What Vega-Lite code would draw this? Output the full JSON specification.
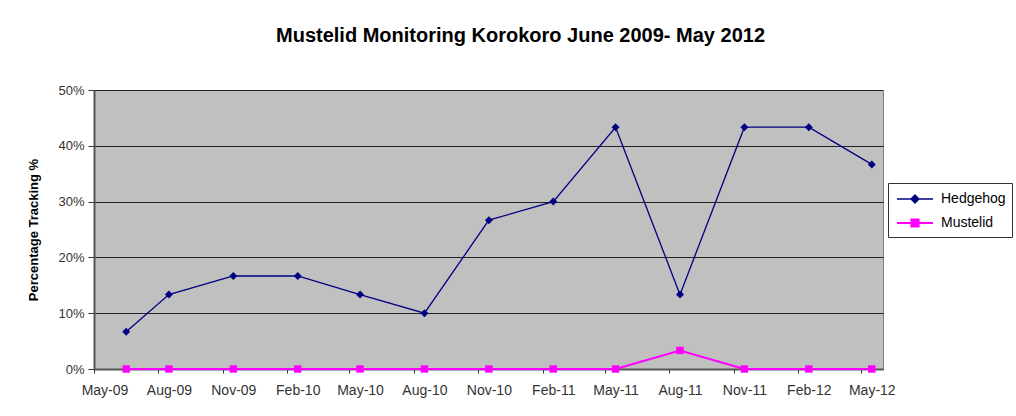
{
  "$schema": "https://vega.github.io/schema/vega-lite/v6.json",
  "autosize": {"type": "none"},
  "width": 789,
  "height": 279,
  "padding": {"left": 94, "top": 90, "right": 133, "bottom": 47},
  "background": "white",
  "title": {
    "text": "Mustelid Monitoring Korokoro June 2009- May 2012",
    "font": "Liberation Sans",
    "fontSize": 20,
    "fontWeight": "bold",
    "color": "#000000",
    "anchor": "middle",
    "dx": 32,
    "offset": 38
  },
  "config": {
    "font": "Liberation Sans",
    "view": {"fill": "#C0C0C0", "stroke": "#808080", "strokeWidth": 1}
  },
  "data": {
    "values": [
      {"date": "2009-06-01", "series": "Hedgehog", "value": 0.0667},
      {"date": "2009-08-01", "series": "Hedgehog", "value": 0.1333},
      {"date": "2009-11-01", "series": "Hedgehog", "value": 0.1667},
      {"date": "2010-02-01", "series": "Hedgehog", "value": 0.1667},
      {"date": "2010-05-01", "series": "Hedgehog", "value": 0.1333},
      {"date": "2010-08-01", "series": "Hedgehog", "value": 0.1},
      {"date": "2010-11-01", "series": "Hedgehog", "value": 0.2667},
      {"date": "2011-02-01", "series": "Hedgehog", "value": 0.3},
      {"date": "2011-05-01", "series": "Hedgehog", "value": 0.4333},
      {"date": "2011-08-01", "series": "Hedgehog", "value": 0.1333},
      {"date": "2011-11-01", "series": "Hedgehog", "value": 0.4333},
      {"date": "2012-02-01", "series": "Hedgehog", "value": 0.4333},
      {"date": "2012-05-01", "series": "Hedgehog", "value": 0.3667},
      {"date": "2009-06-01", "series": "Mustelid", "value": 0},
      {"date": "2009-08-01", "series": "Mustelid", "value": 0},
      {"date": "2009-11-01", "series": "Mustelid", "value": 0},
      {"date": "2010-02-01", "series": "Mustelid", "value": 0},
      {"date": "2010-05-01", "series": "Mustelid", "value": 0},
      {"date": "2010-08-01", "series": "Mustelid", "value": 0},
      {"date": "2010-11-01", "series": "Mustelid", "value": 0},
      {"date": "2011-02-01", "series": "Mustelid", "value": 0},
      {"date": "2011-05-01", "series": "Mustelid", "value": 0},
      {"date": "2011-08-01", "series": "Mustelid", "value": 0.0333},
      {"date": "2011-11-01", "series": "Mustelid", "value": 0},
      {"date": "2012-02-01", "series": "Mustelid", "value": 0},
      {"date": "2012-05-01", "series": "Mustelid", "value": 0}
    ]
  },
  "encoding": {
    "x": {
      "field": "date",
      "type": "temporal",
      "scale": {
        "type": "utc",
        "domain": [
          {"year": 2009, "month": 4, "date": 16, "utc": true},
          {"year": 2012, "month": 5, "date": 17, "utc": true}
        ]
      },
      "axis": {
        "title": null,
        "grid": false,
        "values": [
          {"year": 2009, "month": 5, "date": 1, "utc": true},
          {"year": 2009, "month": 8, "date": 1, "utc": true},
          {"year": 2009, "month": 11, "date": 1, "utc": true},
          {"year": 2010, "month": 2, "date": 1, "utc": true},
          {"year": 2010, "month": 5, "date": 1, "utc": true},
          {"year": 2010, "month": 8, "date": 1, "utc": true},
          {"year": 2010, "month": 11, "date": 1, "utc": true},
          {"year": 2011, "month": 2, "date": 1, "utc": true},
          {"year": 2011, "month": 5, "date": 1, "utc": true},
          {"year": 2011, "month": 8, "date": 1, "utc": true},
          {"year": 2011, "month": 11, "date": 1, "utc": true},
          {"year": 2012, "month": 2, "date": 1, "utc": true},
          {"year": 2012, "month": 5, "date": 1, "utc": true}
        ],
        "labelExpr": "utcFormat(datum.value, '%b-%y')",
        "labelFontSize": 14,
        "labelColor": "#333333",
        "labelFlush": false,
        "labelOverlap": false,
        "tickOffset": -10.7,
        "labelOffset": 10.7,
        "tickSize": 4,
        "tickColor": "#333333",
        "labelPadding": 10,
        "domainColor": "#555555",
        "domainWidth": 2
      }
    },
    "y": {
      "field": "value",
      "type": "quantitative",
      "scale": {"domain": [0, 0.5], "nice": false},
      "axis": {
        "values": [0, 0.1, 0.2, 0.3, 0.4, 0.5],
        "format": ".0%",
        "title": "Percentage Tracking %",
        "titleFontSize": 13,
        "titleFontWeight": "bold",
        "titleColor": "#000000",
        "titlePadding": 17,
        "labelFontSize": 13,
        "labelColor": "#333333",
        "labelPadding": 4,
        "tickSize": 6,
        "tickColor": "#333333",
        "gridColor": "#222222",
        "gridWidth": 1,
        "domainColor": "#555555",
        "domainWidth": 2
      }
    },
    "color": {
      "field": "series",
      "type": "nominal",
      "scale": {"domain": ["Hedgehog", "Mustelid"], "range": ["#000080", "#FF00FF"]},
      "legend": {
        "orient": "none",
        "legendX": 794,
        "legendY": 93,
        "title": null,
        "fillColor": "#FFFFFF",
        "strokeColor": "#333333",
        "padding": 6,
        "labelFontSize": 14,
        "labelColor": "#000000",
        "symbolSize": 324,
        "symbolStrokeWidth": 1.5,
        "symbolType": "M-2,0H2",
        "rowPadding": 7,
        "symbolOffset": 11,
        "labelOffset": 16,
        "encode": {
          "symbols": {
            "update": {
              "shape": {"signal": "datum.value === 'Hedgehog' ? 'M-2,0H2M0,-0.45L0.45,0L0,0.45L-0.45,0Z' : 'M-2,0H2M-0.4,-0.4H0.4V0.4H-0.4Z'"},
              "fill": {"signal": "datum.value === 'Hedgehog' ? '#000080' : '#FF00FF'"},
              "stroke": {"signal": "datum.value === 'Hedgehog' ? '#000080' : '#FF00FF'"},
              "opacity": {"value": 1}
            }
          }
        }
      }
    }
  },
  "layer": [
    {
      "mark": {"type": "line"},
      "encoding": {
        "strokeWidth": {
          "field": "series",
          "type": "nominal",
          "scale": {"domain": ["Hedgehog", "Mustelid"], "range": [1.3, 2]},
          "legend": null
        }
      }
    },
    {
      "transform": [{"filter": "datum.series === 'Hedgehog'"}],
      "mark": {"type": "point", "filled": true, "opacity": 1, "size": 64, "shape": "diamond"}
    },
    {
      "transform": [{"filter": "datum.series === 'Mustelid'"}],
      "mark": {"type": "point", "filled": true, "opacity": 1, "size": 56, "shape": "square"}
    }
  ]
}
